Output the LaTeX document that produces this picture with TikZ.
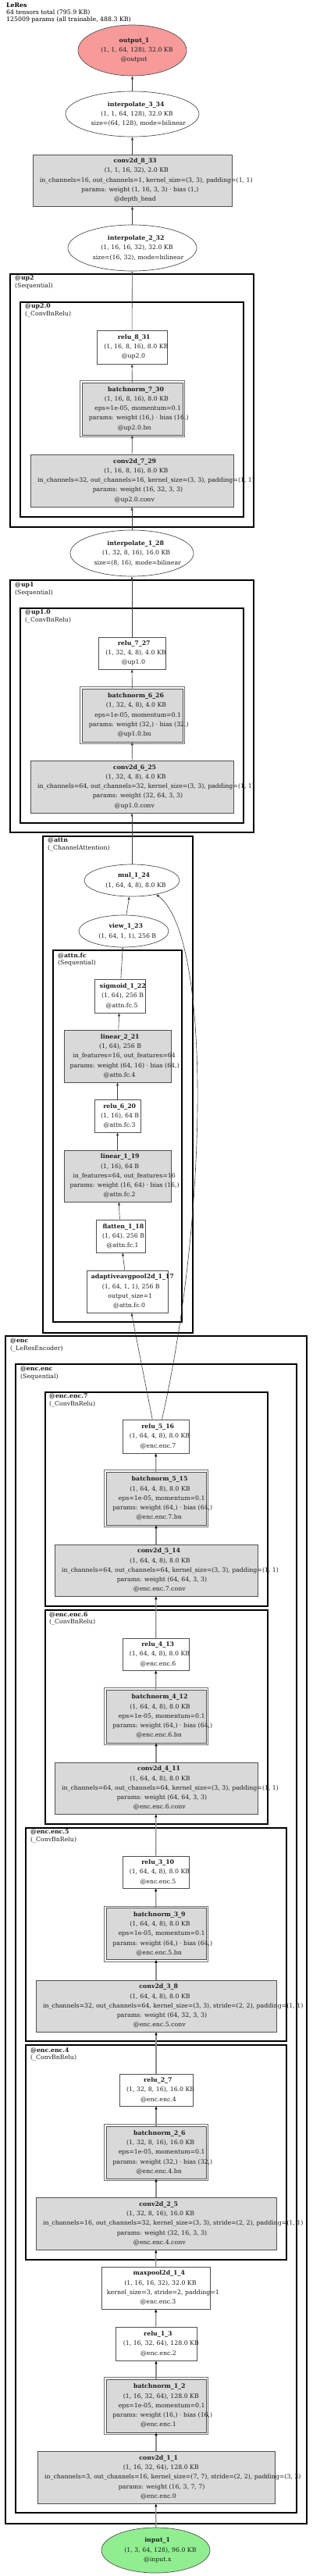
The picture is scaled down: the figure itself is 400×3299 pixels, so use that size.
\documentclass[tikz,border=0pt]{standalone}
\usepackage{fontspec}
\setmainfont{DejaVu Serif}
\usetikzlibrary{shapes.geometric,arrows.meta}
\definecolor{gfill}{RGB}{217,217,217}
\definecolor{redfill}{RGB}{247,154,154}
\definecolor{greenfill}{RGB}{144,238,144}
\definecolor{bdr}{RGB}{80,80,80}
\definecolor{txt}{RGB}{30,30,30}
\definecolor{edgegray}{RGB}{140,140,140}
\newlength\gllen
\newcommand\gl[1]{\settowidth\gllen{#1}\makebox[0pt][l]{\hspace{-0.435\gllen}#1}}
\newcommand\gb[1]{\gl{\textbf{#1}}}
\newcommand\bnframe[1]{\draw[bnouter] ([xshift=-2pt,yshift=2pt]#1.north west) rectangle ([xshift=2pt,yshift=-2pt]#1.south east);}
\begin{document}
\begin{tikzpicture}[x=1pt,y=-1pt,
 nodefont/.style={font=\fontsize{7.8}{12.3}\selectfont, text=txt},
 base/.style={nodefont, inner sep=0pt, align=center},
 plainbox/.style={base, rectangle, draw=bdr, line width=0.8pt, fill=white},
 graybox/.style={plainbox, fill=gfill},
 bnbox/.style={base, rectangle, draw=bdr, line width=0.8pt, fill=gfill},
 bnouter/.style={draw=bdr!80, line width=0.7pt},
 oval/.style={base, ellipse, draw=bdr, line width=0.7pt, fill=white},
 cluster/.style={draw=black, line width=2.4pt},
 clabel/.style={anchor=north west, inner sep=0pt, align=left, font=\fontsize{7.8}{9.4}\selectfont, text=txt},
 edge/.style={draw=black!75, line width=0.6pt, -{Triangle[length=4pt,width=3pt]}},
 gedge/.style={draw=edgegray, line width=1.3pt, -{Triangle[length=4pt,width=3pt,color=black]}},
]
\fill[white] (0,0) rectangle (400,3299);
\useasboundingbox (0,0) rectangle (400,3299);

% title
\node[anchor=north west, inner sep=0pt, align=left, font=\fontsize{7.8}{9}\selectfont, text=black] (title) at (8,4)
 {\textbf{LeRes}\\64 tensors total (795.9 KB)\\125009 params (all trainable, 488.3 KB)};

% clusters
\draw[cluster] (13,351) rectangle (325,675);
\node[clabel] (lup2) at (19,353) {\textbf{@up2}\\(Sequential)};
\draw[cluster] (26,387) rectangle (312,662);
\node[clabel] (lup20) at (32,389) {\textbf{@up2.0}\\(\_ConvBnRelu)};
\draw[cluster] (13,743) rectangle (325,1066);
\node[clabel] (lup1) at (19,746) {\textbf{@up1}\\(Sequential)};
\draw[cluster] (26,779) rectangle (312,1054);
\node[clabel] (lup10) at (32,781) {\textbf{@up1.0}\\(\_ConvBnRelu)};
\draw[cluster] (55,1071) rectangle (247,1707);
\node[clabel] (lattn) at (61,1073) {\textbf{@attn}\\(\_ChannelAttention)};
\draw[cluster] (68,1217) rectangle (233,1693);
\node[clabel] (lfc) at (74,1220) {\textbf{@attn.fc}\\(Sequential)};
\draw[cluster] (7,1711) rectangle (393,3232);
\node[clabel] (lenc) at (13,1714) {\textbf{@enc}\\(\_LeResEncoder)};
\draw[cluster] (20,1747) rectangle (380,3218);
\node[clabel] (lencenc) at (26,1750) {\textbf{@enc.enc}\\(Sequential)};
\draw[cluster] (58,1783) rectangle (343,2057);
\node[clabel] (le7) at (63,1785) {\textbf{@enc.enc.7}\\(\_ConvBnRelu)};
\draw[cluster] (58,2062) rectangle (343,2336);
\node[clabel] (le6) at (63,2064) {\textbf{@enc.enc.6}\\(\_ConvBnRelu)};
\draw[cluster] (33,2341) rectangle (367,2614);
\node[clabel] (le5) at (39,2343) {\textbf{@enc.enc.5}\\(\_ConvBnRelu)};
\draw[cluster] (33,2619) rectangle (367,2894);
\node[clabel] (le4) at (39,2622) {\textbf{@enc.enc.4}\\(\_ConvBnRelu)};

% nodes
\node[oval, fill=redfill, minimum width=139pt, minimum height=65pt] (out) at (169.5,64.5)
 {\gb{output\_1}\\\gl{(1, 1, 64, 128), 32.0 KB}\\\gl{@output}};
\node[oval, minimum width=171pt, minimum height=58pt] (ip3) at (169.5,146)
 {\gb{interpolate\_3\_34}\\\gl{(1, 1, 64, 128), 32.0 KB}\\\gl{size=(64, 128), mode=bilinear}};
\node[graybox, minimum width=255pt, minimum height=66pt] (c8) at (169.5,231)
 {\gb{conv2d\_8\_33}\\\gl{(1, 1, 16, 32), 2.0 KB}\\\gl{in\_channels=16, out\_channels=1, kernel\_size=(3, 3), padding=(1, 1)}\\\gl{params: weight (1, 16, 3, 3) · bias (1,)}\\\gl{@depth\_head}};
\node[oval, minimum width=165pt, minimum height=59pt] (ip2) at (169.5,317.5)
 {\gb{interpolate\_2\_32}\\\gl{(1, 16, 16, 32), 32.0 KB}\\\gl{size=(16, 32), mode=bilinear}};
\node[plainbox, minimum width=90pt, minimum height=43pt] (r8) at (169,444.5)
 {\gb{relu\_8\_31}\\\gl{(1, 16, 8, 16), 8.0 KB}\\\gl{@up2.0}};
\node[bnbox, minimum width=129pt, minimum height=67pt] (bn7) at (169.5,523.5)
 {\gb{batchnorm\_7\_30}\\\gl{(1, 16, 8, 16), 8.0 KB}\\\gl{eps=1e-05, momentum=0.1}\\\gl{params: weight (16,) · bias (16,)}\\\gl{@up2.0.bn}};
\node[graybox, minimum width=260pt, minimum height=67pt] (c7) at (169,615.5)
 {\gb{conv2d\_7\_29}\\\gl{(1, 16, 8, 16), 8.0 KB}\\\gl{in\_channels=32, out\_channels=16, kernel\_size=(3, 3), padding=(1, 1)}\\\gl{params: weight (16, 32, 3, 3)}\\\gl{@up2.0.conv}};
\node[oval, minimum width=158pt, minimum height=59pt] (ip1) at (169,708.5)
 {\gb{interpolate\_1\_28}\\\gl{(1, 32, 8, 16), 16.0 KB}\\\gl{size=(8, 16), mode=bilinear}};
\node[plainbox, minimum width=86pt, minimum height=41pt] (r7) at (169,836.5)
 {\gb{relu\_7\_27}\\\gl{(1, 32, 4, 8), 4.0 KB}\\\gl{@up1.0}};
\node[bnbox, minimum width=129pt, minimum height=68pt] (bn6) at (169.5,916)
 {\gb{batchnorm\_6\_26}\\\gl{(1, 32, 4, 8), 4.0 KB}\\\gl{eps=1e-05, momentum=0.1}\\\gl{params: weight (32,) · bias (32,)}\\\gl{@up1.0.bn}};
\node[graybox, minimum width=260pt, minimum height=67pt] (c6) at (169,1007.5)
 {\gb{conv2d\_6\_25}\\\gl{(1, 32, 4, 8), 4.0 KB}\\\gl{in\_channels=64, out\_channels=32, kernel\_size=(3, 3), padding=(1, 1)}\\\gl{params: weight (32, 64, 3, 3)}\\\gl{@up1.0.conv}};
\node[oval, minimum width=122pt, minimum height=41pt] (mul) at (169,1127.5)
 {\gb{mul\_1\_24}\\\gl{(1, 64, 4, 8), 8.0 KB}};
\node[oval, minimum width=115pt, minimum height=41pt] (view) at (158.5,1192.5)
 {\gb{view\_1\_23}\\\gl{(1, 64, 1, 1), 256 B}};
\node[plainbox, minimum width=65pt, minimum height=43pt] (sig) at (153.5,1275.5)
 {\gb{sigmoid\_1\_22}\\\gl{(1, 64), 256 B}\\\gl{@attn.fc.5}};
\node[graybox, minimum width=137pt, minimum height=67pt] (lin2) at (150.5,1352.5)
 {\gb{linear\_2\_21}\\\gl{(1, 64), 256 B}\\\gl{in\_features=16, out\_features=64}\\\gl{params: weight (64, 16) · bias (64,)}\\\gl{@attn.fc.4}};
\node[plainbox, minimum width=59pt, minimum height=42pt] (r6) at (150.5,1429)
 {\gb{relu\_6\_20}\\\gl{(1, 16), 64 B}\\\gl{@attn.fc.3}};
\node[graybox, minimum width=137pt, minimum height=66pt] (lin1) at (150.5,1506)
 {\gb{linear\_1\_19}\\\gl{(1, 16), 64 B}\\\gl{in\_features=64, out\_features=16}\\\gl{params: weight (16, 64) · bias (16,)}\\\gl{@attn.fc.2}};
\node[plainbox, minimum width=63pt, minimum height=42pt] (flat) at (154.5,1583)
 {\gb{flatten\_1\_18}\\\gl{(1, 64), 256 B}\\\gl{@attn.fc.1}};
\node[plainbox, minimum width=104pt, minimum height=54pt] (aap) at (163,1654)
 {\gb{adaptiveavgpool2d\_1\_17}\\\gl{(1, 64, 1, 1), 256 B}\\\gl{output\_size=1}\\\gl{@attn.fc.0}};
\node[plainbox, minimum width=85pt, minimum height=43pt] (r5) at (199.5,1839.5)
 {\gb{relu\_5\_16}\\\gl{(1, 64, 4, 8), 8.0 KB}\\\gl{@enc.enc.7}};
\node[bnbox, minimum width=128pt, minimum height=68pt] (bn5) at (200,1919)
 {\gb{batchnorm\_5\_15}\\\gl{(1, 64, 4, 8), 8.0 KB}\\\gl{eps=1e-05, momentum=0.1}\\\gl{params: weight (64,) · bias (64,)}\\\gl{@enc.enc.7.bn}};
\node[graybox, minimum width=260pt, minimum height=66pt] (c5) at (200,2011)
 {\gb{conv2d\_5\_14}\\\gl{(1, 64, 4, 8), 8.0 KB}\\\gl{in\_channels=64, out\_channels=64, kernel\_size=(3, 3), padding=(1, 1)}\\\gl{params: weight (64, 64, 3, 3)}\\\gl{@enc.enc.7.conv}};
\node[plainbox, minimum width=85pt, minimum height=41pt] (r4) at (199.5,2118.5)
 {\gb{relu\_4\_13}\\\gl{(1, 64, 4, 8), 8.0 KB}\\\gl{@enc.enc.6}};
\node[bnbox, minimum width=128pt, minimum height=68pt] (bn4) at (200,2198)
 {\gb{batchnorm\_4\_12}\\\gl{(1, 64, 4, 8), 8.0 KB}\\\gl{eps=1e-05, momentum=0.1}\\\gl{params: weight (64,) · bias (64,)}\\\gl{@enc.enc.6.bn}};
\node[graybox, minimum width=260pt, minimum height=66pt] (c4) at (200,2290)
 {\gb{conv2d\_4\_11}\\\gl{(1, 64, 4, 8), 8.0 KB}\\\gl{in\_channels=64, out\_channels=64, kernel\_size=(3, 3), padding=(1, 1)}\\\gl{params: weight (64, 64, 3, 3)}\\\gl{@enc.enc.6.conv}};
\node[plainbox, minimum width=85pt, minimum height=41pt] (r3) at (199.5,2397.5)
 {\gb{relu\_3\_10}\\\gl{(1, 64, 4, 8), 8.0 KB}\\\gl{@enc.enc.5}};
\node[bnbox, minimum width=128pt, minimum height=66pt] (bn3) at (200,2476.5)
 {\gb{batchnorm\_3\_9}\\\gl{(1, 64, 4, 8), 8.0 KB}\\\gl{eps=1e-05, momentum=0.1}\\\gl{params: weight (64,) · bias (64,)}\\\gl{@enc.enc.5.bn}};
\node[graybox, minimum width=308pt, minimum height=66pt] (c3) at (200,2569)
 {\gb{conv2d\_3\_8}\\\gl{(1, 64, 4, 8), 8.0 KB}\\\gl{in\_channels=32, out\_channels=64, kernel\_size=(3, 3), stride=(2, 2), padding=(1, 1)}\\\gl{params: weight (64, 32, 3, 3)}\\\gl{@enc.enc.5.conv}};
\node[plainbox, minimum width=94pt, minimum height=41pt] (r2) at (200,2676.5)
 {\gb{relu\_2\_7}\\\gl{(1, 32, 8, 16), 16.0 KB}\\\gl{@enc.enc.4}};
\node[bnbox, minimum width=128pt, minimum height=67pt] (bn2) at (200,2756.5)
 {\gb{batchnorm\_2\_6}\\\gl{(1, 32, 8, 16), 16.0 KB}\\\gl{eps=1e-05, momentum=0.1}\\\gl{params: weight (32,) · bias (32,)}\\\gl{@enc.enc.4.bn}};
\node[graybox, minimum width=308pt, minimum height=67pt] (c2) at (200,2847.5)
 {\gb{conv2d\_2\_5}\\\gl{(1, 32, 8, 16), 16.0 KB}\\\gl{in\_channels=16, out\_channels=32, kernel\_size=(3, 3), stride=(2, 2), padding=(1, 1)}\\\gl{params: weight (32, 16, 3, 3)}\\\gl{@enc.enc.4.conv}};
\node[plainbox, minimum width=139pt, minimum height=54pt] (mp) at (199.5,2930)
 {\gb{maxpool2d\_1\_4}\\\gl{(1, 16, 16, 32), 32.0 KB}\\\gl{kernel\_size=3, stride=2, padding=1}\\\gl{@enc.enc.3}};
\node[plainbox, minimum width=104pt, minimum height=43pt] (r1) at (200,3001.5)
 {\gb{relu\_1\_3}\\\gl{(1, 16, 32, 64), 128.0 KB}\\\gl{@enc.enc.2}};
\node[bnbox, minimum width=128pt, minimum height=68pt] (bn1) at (200,3081)
 {\gb{batchnorm\_1\_2}\\\gl{(1, 16, 32, 64), 128.0 KB}\\\gl{eps=1e-05, momentum=0.1}\\\gl{params: weight (16,) · bias (16,)}\\\gl{@enc.enc.1}};
\node[graybox, minimum width=304pt, minimum height=67pt] (c1) at (200,3172.5)
 {\gb{conv2d\_1\_1}\\\gl{(1, 16, 32, 64), 128.0 KB}\\\gl{in\_channels=3, out\_channels=16, kernel\_size=(7, 7), stride=(2, 2), padding=(3, 3)}\\\gl{params: weight (16, 3, 7, 7)}\\\gl{@enc.enc.0}};
\node[oval, fill=greenfill, minimum width=139pt, minimum height=58pt] (in) at (199.5,3266)
 {\gb{input\_1}\\\gl{(1, 3, 64, 128), 96.0 KB}\\\gl{@input.x}};

% outer frames of batchnorm nodes
\bnframe{bn7}
\bnframe{bn6}
\bnframe{bn5}
\bnframe{bn4}
\bnframe{bn3}
\bnframe{bn2}
\bnframe{bn1}

% edges (encoder)
\draw[gedge] (in) -- (c1);
\draw[gedge] (c1) -- (bn1);
\draw[gedge] (bn1) -- (r1);
\draw[gedge] (r1) -- (mp);
\draw[gedge] (mp) -- (c2);
\draw[gedge] (c2) -- (bn2);
\draw[gedge] (bn2) -- (r2);
\draw[gedge] (r2) -- (c3);
\draw[gedge] (c3) -- (bn3);
\draw[gedge] (bn3) -- (r3);
\draw[gedge] (r3) -- (c4);
\draw[gedge] (c4) -- (bn4);
\draw[gedge] (bn4) -- (r4);
\draw[gedge] (r4) -- (c5);
\draw[gedge] (c5) -- (bn5);
\draw[gedge] (bn5) -- (r5);
% edges (attention and decoder)
\draw[edge] (r5) -- (aap);
\draw[edge] (r5.70) .. controls (266,1560) and (272,1200) .. (mul.-30);
\draw[edge] (aap) -- (flat);
\draw[edge] (flat) -- (lin1);
\draw[edge] (lin1) -- (r6);
\draw[edge] (r6) -- (lin2);
\draw[edge] (lin2) -- (sig);
\draw[edge] (sig) -- (view);
\draw[edge] (view) -- (mul);
\draw[edge] (mul) -- (c6);
\draw[edge] (c6) -- (bn6);
\draw[edge] (bn6) -- (r7);
\draw[edge] (r7) -- (ip1);
\draw[edge] (ip1) -- (c7);
\draw[edge] (c7) -- (bn7);
\draw[edge] (bn7) -- (r8);
\draw[edge] (r8) -- (ip2);
\draw[edge] (ip2) -- (c8);
\draw[edge] (c8) -- (ip3);
\draw[edge] (ip3) -- (out);
\end{tikzpicture}
\end{document}
